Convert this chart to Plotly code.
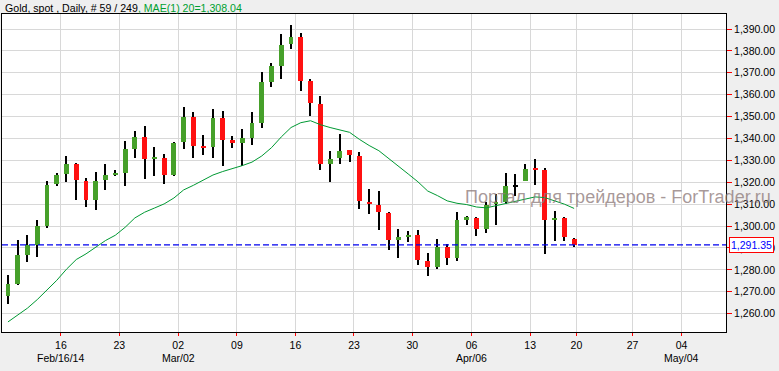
import plotly.graph_objects as go

# ---- data (Gold spot, daily) ----
opens = [1267.9, 1273.7, 1286.9, 1291.5, 1300.2, 1319.0, 1323.6, 1328.5, 1320.7, 1311.7,
         1320.9, 1323.4, 1324.1, 1335.3, 1340.8, 1330.8, 1331.2, 1323.5, 1338.2, 1349.8,
         1336.6, 1335.9, 1349.5, 1339.1, 1338.1, 1340.4, 1347.2, 1365.9, 1373.2, 1383.0,
         1386.5, 1366.4, 1355.8, 1328.2, 1330.9, 1334.6, 1332.1, 1311.1, 1309.8, 1306.1,
         1293.5, 1295.2, 1296.1, 1284.2, 1281.3, 1290.6, 1285.3, 1303.2, 1303.8, 1298.5,
         1310.1, 1311.0, 1318.0, 1320.7, 1326.6, 1325.8, 1303.0, 1303.8, 1294.2]
highs = [1277.8, 1293.8, 1295.9, 1302.9, 1320.7, 1324.2, 1332.1, 1328.8, 1322.0, 1324.8,
         1328.5, 1325.8, 1339.0, 1343.6, 1345.5, 1336.3, 1333.1, 1338.2, 1354.6, 1352.2,
         1341.6, 1353.6, 1352.7, 1341.3, 1344.5, 1352.1, 1370.5, 1374.6, 1387.9, 1392.0,
         1388.2, 1367.3, 1359.4, 1334.4, 1342.2, 1334.9, 1334.0, 1317.1, 1316.2, 1306.6,
         1298.7, 1297.9, 1298.4, 1287.7, 1294.2, 1291.8, 1306.6, 1304.7, 1304.0, 1311.0,
         1314.8, 1324.4, 1323.9, 1328.5, 1330.6, 1326.5, 1307.0, 1304.0, 1294.7]
lows = [1264.6, 1273.2, 1283.4, 1285.7, 1299.3, 1318.1, 1320.3, 1312.1, 1308.5, 1307.2,
        1316.3, 1322.7, 1318.1, 1330.9, 1321.6, 1323.0, 1319.0, 1323.0, 1335.4, 1330.9,
        1332.3, 1330.9, 1327.3, 1335.8, 1327.3, 1337.2, 1344.9, 1363.7, 1367.3, 1381.0,
        1361.5, 1350.1, 1325.4, 1320.0, 1328.5, 1329.1, 1307.6, 1305.3, 1298.0, 1288.9,
        1285.3, 1292.6, 1282.1, 1277.0, 1280.2, 1282.1, 1283.9, 1300.3, 1295.3, 1296.7,
        1300.3, 1310.2, 1313.6, 1320.4, 1318.6, 1287.4, 1293.0, 1293.0, 1290.3]
closes = [1273.7, 1286.8, 1291.4, 1300.2, 1318.9, 1323.5, 1328.5, 1320.9, 1311.7, 1320.7,
          1323.5, 1324.2, 1335.3, 1340.7, 1330.8, 1331.6, 1323.5, 1338.0, 1349.9, 1336.4,
          1335.8, 1349.5, 1339.1, 1338.2, 1340.4, 1347.2, 1365.9, 1373.2, 1382.8, 1386.5,
          1366.4, 1356.0, 1328.2, 1330.8, 1334.4, 1332.3, 1311.3, 1309.9, 1306.3, 1293.5,
          1295.2, 1296.0, 1284.3, 1281.3, 1290.6, 1285.3, 1302.9, 1304.0, 1298.5, 1309.8,
          1311.0, 1318.4, 1318.0, 1326.2, 1325.8, 1302.6, 1303.6, 1294.8, 1291.35]
ma20 = [1256.2, 1259.2, 1262.5, 1266.4, 1271.0, 1275.2, 1280.3, 1284.7, 1287.3, 1290.5,
        1293.4, 1295.8, 1299.4, 1303.7, 1306.3, 1308.2, 1310.1, 1312.8, 1316.5, 1318.6,
        1320.8, 1323.3, 1324.9, 1326.1, 1327.6, 1329.2, 1332.0, 1335.8, 1340.7, 1345.0,
        1347.2, 1348.1, 1346.3, 1345.0, 1344.0, 1342.8, 1339.6, 1336.8, 1334.4, 1331.0,
        1327.2, 1323.8, 1320.2, 1316.0, 1313.9, 1311.5, 1310.4, 1309.8, 1308.7, 1308.3,
        1309.3, 1310.3, 1311.2, 1312.3, 1313.3, 1313.0, 1311.6, 1310.0, 1308.04]

tick_pos = [5.43, 11.4, 17.44, 23.46, 29.45, 35.45, 41.43, 47.5, 53.5, 58.24, 63.98, 69.0]
tick_text = ["16", "23", "02", "09", "16", "23", "30", "06", "13", "20", "27", "04"]
month_text = ["Feb/16/14", "", "Mar/02", "", "", "", "", "Apr/06", "", "", "", "May/04"]
price_ticks = [1260, 1270, 1280, 1290, 1300, 1310, 1320, 1330, 1340, 1350, 1360, 1370, 1380, 1390]

header_text = "Gold, spot , Daily, # 59 / 249"
ma_label = "MAE(1) 20"
watermark = "Портал для трейдеров - ForTrader.ru"

# ---- styling ----
GREEN = "#46a02a"
RED = "#ff1111"
MA_COLOR = "#009933"
FONT = "Arial, Liberation Sans, sans-serif"

idx = list(range(len(closes)))
body_base = [min(o, c) for o, c in zip(opens, closes)]
body_h = [abs(c - o) if c != o else 0.6 for o, c in zip(opens, closes)]
body_col = [GREEN if c > o else (RED if c < o else "black") for o, c in zip(opens, closes)]

fig = go.Figure()
fig.add_trace(go.Bar(x=idx, base=lows, y=[h - l for h, l in zip(highs, lows)],
                     width=0.12, marker=dict(color="black", line=dict(width=0)),
                     hoverinfo="skip", showlegend=False))
fig.add_trace(go.Bar(x=idx, base=body_base, y=body_h, width=0.5,
                     marker=dict(color=body_col, line=dict(width=0)),
                     hoverinfo="skip", showlegend=False))
fig.add_trace(go.Scatter(x=idx, y=ma20, mode="lines",
                         line=dict(color=MA_COLOR, width=1), hoverinfo="skip",
                         showlegend=False))

last = closes[-1]
fig.add_shape(type="line", xref="paper", x0=0, x1=1, yref="y", y0=last, y1=last,
              line=dict(color="#0000ee", width=1.2, dash="6px,3px"))

W, H = 779, 371
L, R, T, B = 2, 53, 14, 39
pw, ph = W - L - R, H - T - B


def px_x(px):
    return (px - L) / pw


def px_y(py):
    return (H - B - py) / ph


annotations = [
    dict(xref="paper", yref="paper", x=px_x(3), y=px_y(7.5), xanchor="left", yanchor="middle",
         showarrow=False, font=dict(family=FONT, size=10.6, color="black"),
         text=header_text + "<span style='color:#00a030'>, " + ma_label + "=" +
              f"{ma20[-1]:,.2f}" + "</span>"),
    dict(xref="paper", yref="paper", x=px_x(463), y=px_y(196.5), xanchor="left", yanchor="middle",
         showarrow=False, font=dict(family=FONT, size=18, color="rgba(140,120,120,0.75)"),
         text=watermark),
    dict(xref="paper", yref="y", x=px_x(729), y=last, xanchor="left", yanchor="middle",
         showarrow=False, font=dict(family=FONT, size=10.5, color="#0000ff"),
         text=f"{last:,.2f}", bgcolor="white", bordercolor="#ff0000", borderwidth=1, borderpad=1),
]
for p, m in zip(tick_pos, month_text):
    if m:
        annotations.append(dict(xref="x", yref="paper", x=p, y=px_y(358.3), xanchor="center",
                                yanchor="middle", showarrow=False,
                                font=dict(family=FONT, size=10.5, color="black"), text=m))

fig.update_layout(
    width=W, height=H, margin=dict(l=L, r=R, t=T, b=B, pad=0),
    paper_bgcolor="#efefef", plot_bgcolor="white",
    barmode="overlay", bargap=0, showlegend=False,
    font=dict(family=FONT, size=10.5, color="black"),
    annotations=annotations,
    xaxis=dict(range=[-0.61, 73.56], tickvals=tick_pos, ticktext=tick_text,
               showgrid=True, gridcolor="#d8d8d8", gridwidth=1,
               ticks="outside", ticklen=3, tickcolor="#ff0000", tickwidth=1,
               showline=True, linecolor="black", linewidth=1, mirror=True,
               zeroline=False, automargin=False, tickfont=dict(size=10.5, family=FONT)),
    yaxis=dict(range=[1251.6, 1396.85], side="right", tickvals=price_ticks,
               tickformat=",.2f", showgrid=True, gridcolor="#d8d8d8", gridwidth=1,
               ticks="outside", ticklen=5, tickcolor="#ff0000", tickwidth=1,
               showline=True, linecolor="black", linewidth=1, mirror=True,
               zeroline=False, automargin=False, tickfont=dict(size=10.5, family=FONT)),
)

fig.write_html("out.html",
               config={"displayModeBar": False},
               post_script="document.body.style.margin='0px';"
                           "document.body.style.padding='0px';"
                           "document.body.style.overflow='hidden';")
